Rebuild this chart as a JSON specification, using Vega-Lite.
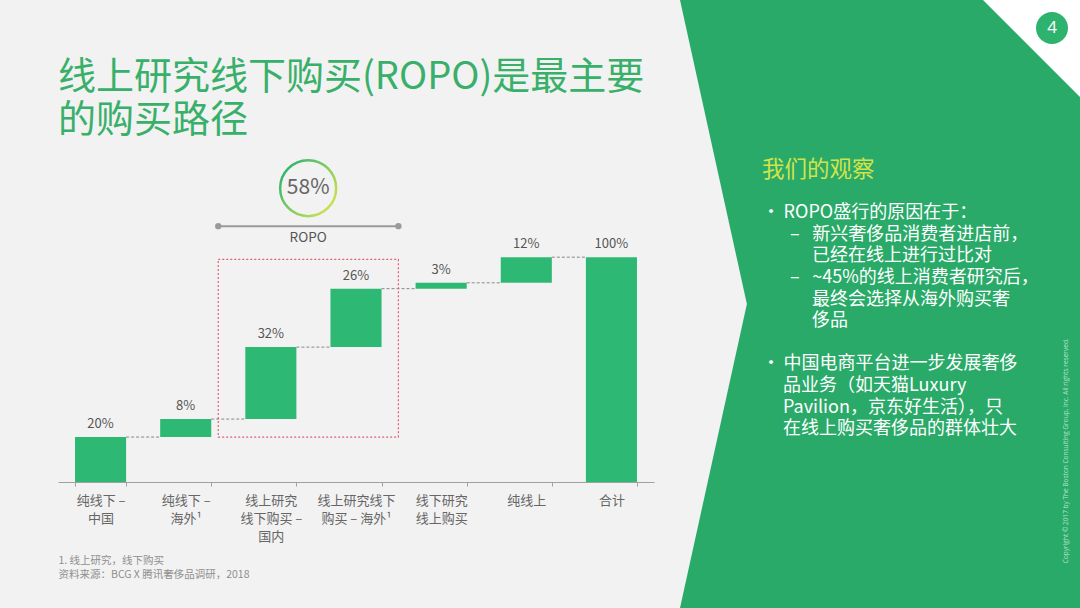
{
  "$schema": "https://vega.github.io/schema/vega-lite/v6.json",
  "background": "#f2f2f2",
  "padding": {"left": 58, "top": 0, "right": 0, "bottom": 0},
  "spacing": 26,
  "config": {"font": "Noto Sans CJK SC", "view": {"stroke": null}},
  "datasets": {
    "ropo": [{"group": "ROPO", "share": "58%", "first": "线上研究|线下购买 –|国内", "last": "线上研究线下|购买 – 海外¹", "low": 20, "high": 99, "bracket": 113.8, "circle": 130.7, "caption": 108.4}]
  },
  "hconcat": [
    {
      "width": 596,
      "height": 482,
      "title": {
        "text": ["线上研究线下购买(ROPO)是最主要", "的购买路径"],
        "anchor": "start",
        "fontSize": 38,
        "fontWeight": "normal",
        "color": "#38b06a",
        "lineHeight": 43,
        "offset": -140
      },
      "data": {
        "values": [
          {"cat": "纯线下 –|中国", "start": 0, "end": 20, "label": "20%", "next": "纯线下 –|海外¹"},
          {"cat": "纯线下 –|海外¹", "start": 20, "end": 28, "label": "8%", "next": "线上研究|线下购买 –|国内"},
          {"cat": "线上研究|线下购买 –|国内", "start": 28, "end": 60, "label": "32%", "next": "线上研究线下|购买 – 海外¹"},
          {"cat": "线上研究线下|购买 – 海外¹", "start": 60, "end": 86, "label": "26%", "next": "线下研究|线上购买"},
          {"cat": "线下研究|线上购买", "start": 86, "end": 88.6, "label": "3%", "next": "纯线上"},
          {"cat": "纯线上", "start": 88.6, "end": 100, "label": "12%", "next": "合计"},
          {"cat": "合计", "start": 0, "end": 100, "label": "100%", "next": null}
        ]
      },
      "layer": [
        {
          "mark": {"type": "bar", "color": "#2db873"},
          "encoding": {
            "x": {
              "field": "cat",
              "type": "nominal",
              "sort": null,
              "scale": {
                "domain": ["纯线下 –|中国", "纯线下 –|海外¹", "线上研究|线下购买 –|国内", "线上研究线下|购买 – 海外¹", "线下研究|线上购买", "纯线上", "合计"],
                "paddingInner": 0.4,
                "paddingOuter": 0.2
              },
              "axis": {
                "title": ["1. 线上研究，线下购买", "资料来源：BCG X 腾讯奢侈品调研，2018"],
                "labelExpr": "split(datum.label, '|')",
                "labelAngle": 0,
                "labelColor": "#666666",
                "labelFontSize": 13,
                "labelLineHeight": 18,
                "labelPadding": 8,
                "domainColor": "#a0a0a0",
                "tickColor": "#a0a0a0",
                "tickBand": "extent",
                "tickSize": 4,
                "titleAnchor": "start",
                "titleAlign": "left",
                "titleFontSize": 10.5,
                "titleFontWeight": "normal",
                "titleColor": "#8f8f8f",
                "titleLineHeight": 14,
                "titlePadding": 12
              }
            },
            "y": {"field": "start", "type": "quantitative", "scale": {"domain": [0, 214.4], "nice": false}, "axis": null},
            "y2": {"field": "end"}
          }
        },
        {
          "mark": {"type": "text", "baseline": "bottom", "dy": -6, "fontSize": 13, "color": "#555555"},
          "encoding": {
            "x": {"field": "cat", "type": "nominal"},
            "y": {"field": "end", "type": "quantitative"},
            "text": {"field": "label"}
          }
        },
        {
          "transform": [{"filter": "datum.next != null"}],
          "mark": {"type": "rule", "strokeDash": [3, 2], "color": "#888888", "strokeWidth": 1},
          "encoding": {
            "x": {"field": "cat", "type": "nominal", "bandPosition": 1},
            "x2": {"field": "next", "bandPosition": 0},
            "y": {"field": "end", "type": "quantitative"}
          }
        },
        {
          "data": {"name": "ropo"},
          "mark": {"type": "rect", "fillOpacity": 0, "stroke": "#e0607a", "strokeDash": [2, 2], "strokeWidth": 1.2},
          "encoding": {
            "x": {"field": "first", "type": "nominal", "bandPosition": -0.53},
            "x2": {"field": "last", "bandPosition": 1.33},
            "y": {"field": "low", "type": "quantitative"},
            "y2": {"field": "high"}
          }
        },
        {
          "data": {"name": "ropo"},
          "mark": {"type": "rule", "color": "#9a9a9a", "strokeWidth": 2},
          "encoding": {
            "x": {"field": "first", "type": "nominal", "bandPosition": -0.53},
            "x2": {"field": "last", "bandPosition": 1.33},
            "y": {"field": "bracket", "type": "quantitative"}
          }
        },
        {
          "data": {"name": "ropo"},
          "mark": {"type": "point", "filled": true, "size": 40, "color": "#9a9a9a", "opacity": 1},
          "encoding": {
            "x": {"field": "first", "type": "nominal", "bandPosition": -0.53},
            "y": {"field": "bracket", "type": "quantitative"}
          }
        },
        {
          "data": {"name": "ropo"},
          "mark": {"type": "point", "filled": true, "size": 40, "color": "#9a9a9a", "opacity": 1},
          "encoding": {
            "x": {"field": "last", "type": "nominal", "bandPosition": 1.33},
            "y": {"field": "bracket", "type": "quantitative"}
          }
        },
        {
          "data": {"name": "ropo"},
          "mark": {"type": "text", "fontSize": 13.5, "color": "#555555", "baseline": "middle"},
          "encoding": {
            "x": {"field": "first", "type": "nominal", "bandPosition": 1.23},
            "y": {"field": "caption", "type": "quantitative"},
            "text": {"field": "group"}
          }
        },
        {
          "data": {"name": "ropo"},
          "mark": {
            "type": "point",
            "filled": false,
            "size": 3136,
            "strokeWidth": 2.5,
            "opacity": 1,
            "stroke": {"gradient": "linear", "x1": 0, "y1": 0.2, "x2": 1, "y2": 1, "stops": [{"offset": 0, "color": "#2eb36e"}, {"offset": 1, "color": "#e2e84a"}]}
          },
          "encoding": {
            "x": {"field": "first", "type": "nominal", "bandPosition": 1.23},
            "y": {"field": "circle", "type": "quantitative"}
          }
        },
        {
          "data": {"name": "ropo"},
          "mark": {"type": "text", "fontSize": 21, "color": "#666666", "baseline": "middle"},
          "encoding": {
            "x": {"field": "first", "type": "nominal", "bandPosition": 1.23},
            "y": {"field": "circle", "type": "quantitative"},
            "text": {"field": "share"}
          }
        }
      ]
    },
    {
      "width": 400,
      "height": 608,
      "view": {"fill": "#29aa68", "stroke": null},
      "data": {
        "values": [
          {"n": 1, "line": "我们的观察", "level": "head"},
          {"n": 3, "line": "•\u2009ROPO盛行的原因在于：", "level": "bullet"},
          {"n": 4, "line": "–\u2002\u2009新兴奢侈品消费者进店前，", "level": "sub"},
          {"n": 5, "line": "已经在线上进行过比对", "level": "subcont"},
          {"n": 6, "line": "–\u2002\u2009~45%的线上消费者研究后，", "level": "sub"},
          {"n": 7, "line": "最终会选择从海外购买奢", "level": "subcont"},
          {"n": 8, "line": "侈品", "level": "subcont"},
          {"n": 10, "line": "•\u2009中国电商平台进一步发展奢侈", "level": "bullet"},
          {"n": 11, "line": "品业务（如天猫Luxury", "level": "bulletcont"},
          {"n": 12, "line": "Pavilion，京东好生活），只", "level": "bulletcont"},
          {"n": 13, "line": "在线上购买奢侈品的群体壮大", "level": "bulletcont"}
        ]
      },
      "layer": [
        {
          "data": {"values": [{"part": "notch", "page": "4", "note": "Copyright © 2017 by The Boston Consulting Group, Inc. All rights reserved."}]},
          "layer": [
            {
              "mark": {"type": "point", "shape": "M0,-1L0.22,0L0,1Z", "size": 369664, "fill": "#f2f2f2", "filled": true, "stroke": null, "opacity": 1},
              "encoding": {
                "x": {"datum": 0, "type": "quantitative", "scale": {"domain": [0, 1], "nice": false, "zero": false}, "axis": null},
                "y": {"datum": 7.204, "type": "quantitative", "scale": {"domain": [-6.87, 21.278], "nice": false, "zero": false, "reverse": true}, "axis": null}
              }
            },
            {
              "mark": {"type": "point", "shape": "M0,0L-1,0L0,1Z", "size": 37636, "fill": "#ffffff", "filled": true, "stroke": null, "opacity": 1},
              "encoding": {
                "x": {"datum": 1, "type": "quantitative"},
                "y": {"datum": -6.87, "type": "quantitative"}
              }
            },
            {
              "mark": {"type": "point", "shape": "circle", "size": 1024, "fill": "#2db36e", "filled": true, "stroke": null, "opacity": 1},
              "encoding": {
                "x": {"datum": 0.93, "type": "quantitative"},
                "y": {"datum": -5.574, "type": "quantitative"}
              }
            },
            {
              "mark": {"type": "text", "fontSize": 17, "color": "#ffffff", "baseline": "middle", "align": "center", "font": "Open Sans"},
              "encoding": {
                "x": {"datum": 0.93, "type": "quantitative"},
                "y": {"datum": -5.574, "type": "quantitative"},
                "text": {"field": "page"}
              }
            },
            {
              "mark": {"type": "text", "fontSize": 6.5, "color": "#d8f0e0", "opacity": 0.8, "angle": 270, "baseline": "middle", "align": "center", "font": "Open Sans"},
              "encoding": {
                "x": {"datum": 0.965, "type": "quantitative"},
                "y": {"datum": 14.0, "type": "quantitative"},
                "text": {"field": "note"}
              }
            }
          ]
        },
        {
          "transform": [{"filter": "datum.level == 'head'"}],
          "mark": {"type": "text", "align": "left", "baseline": "middle", "fontSize": 22.5, "color": "#d2e34a"},
          "encoding": {"x": {"datum": 0.205, "type": "quantitative"}, "y": {"field": "n", "type": "quantitative"}, "text": {"field": "line"}}
        },
        {
          "transform": [{"filter": "datum.level == 'bullet'"}],
          "mark": {"type": "text", "align": "left", "baseline": "middle", "fontSize": 18, "color": "#ffffff"},
          "encoding": {"x": {"datum": 0.205, "type": "quantitative"}, "y": {"field": "n", "type": "quantitative"}, "text": {"field": "line"}}
        },
        {
          "transform": [{"filter": "datum.level == 'bulletcont'"}],
          "mark": {"type": "text", "align": "left", "baseline": "middle", "fontSize": 18, "color": "#ffffff"},
          "encoding": {"x": {"datum": 0.2575, "type": "quantitative"}, "y": {"field": "n", "type": "quantitative"}, "text": {"field": "line"}}
        },
        {
          "transform": [{"filter": "datum.level == 'sub'"}],
          "mark": {"type": "text", "align": "left", "baseline": "middle", "fontSize": 18, "color": "#ffffff"},
          "encoding": {"x": {"datum": 0.275, "type": "quantitative"}, "y": {"field": "n", "type": "quantitative"}, "text": {"field": "line"}}
        },
        {
          "transform": [{"filter": "datum.level == 'subcont'"}],
          "mark": {"type": "text", "align": "left", "baseline": "middle", "fontSize": 18, "color": "#ffffff"},
          "encoding": {"x": {"datum": 0.33, "type": "quantitative"}, "y": {"field": "n", "type": "quantitative"}, "text": {"field": "line"}}
        }
      ]
    }
  ]
}
